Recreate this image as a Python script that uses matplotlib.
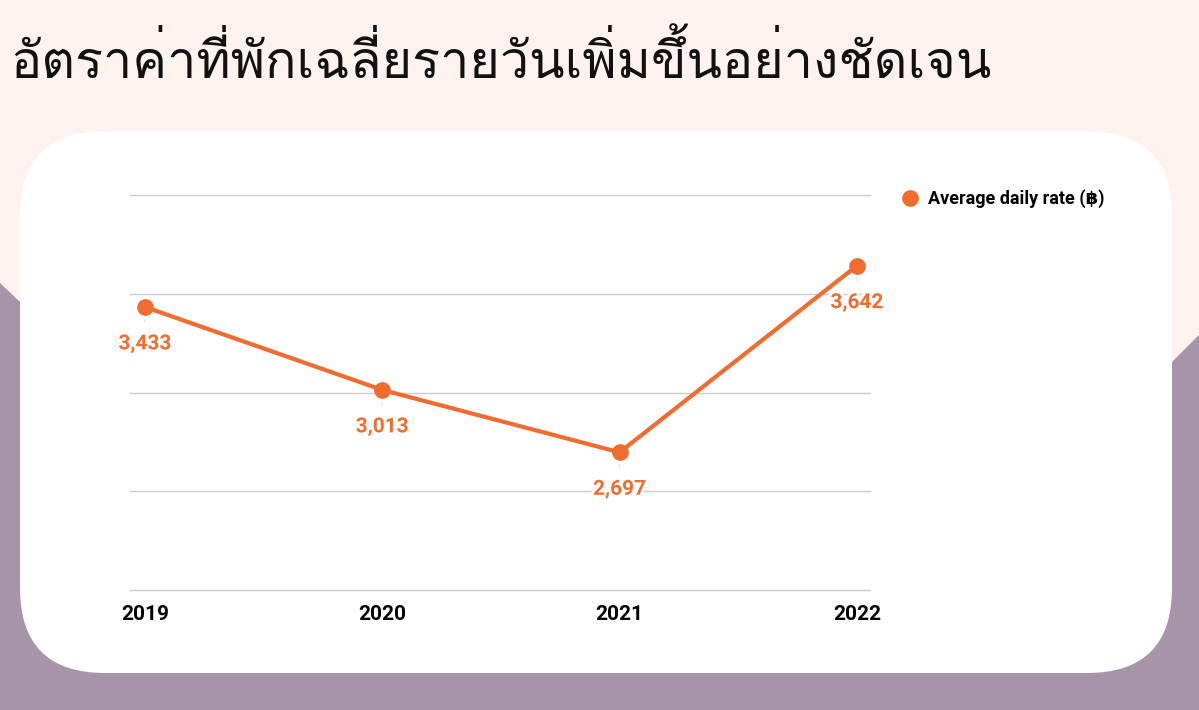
import matplotlib
matplotlib.use('Agg')
import matplotlib.pyplot as plt
from matplotlib.patches import FancyBboxPatch, Polygon
import matplotlib.patheffects as pe

# data
years = ['2019', '2020', '2021', '2022']
rate = [3433, 3013, 2697, 3642]
series_name = 'Average daily rate (฿)'
title = 'อัตราค่าที่พักเฉลี่ยรายวันเพิ่มขึ้นอย่างชัดเจน'

orange = '#f26b2f'
pink = '#fdf2ed'
purple = '#a894a8'

W, H = 1199, 710
fig = plt.figure(figsize=(W / 100, H / 100), dpi=100)
fig.patch.set_facecolor(pink)

# background shapes in pixel coords
bg = fig.add_axes([0, 0, 1, 1], zorder=0)
bg.set_xlim(0, W)
bg.set_ylim(H, 0)
bg.axis('off')
bg.add_patch(Polygon([(0, 283), (200, 473), (1000, 533), (W, 335), (W, H), (0, H)],
                     closed=True, facecolor=purple, edgecolor='none'))
bg.add_patch(FancyBboxPatch((20 + 85, 131 + 85), 1152 - 170, 542 - 170,
                            boxstyle='round,pad=85', facecolor='white', edgecolor='none'))

fig.text(10 / W, 1 - 62 / H, title, fontsize=37.5, va='center', ha='left',
         family=['Loma', 'DejaVu Sans'], color='#111111')

ax = fig.add_axes([130 / W, 120 / H, 740 / W, 395 / H], zorder=2)
ax.set_facecolor('none')
x = list(range(len(years)))
ax.plot(x, rate, color=orange, lw=3, marker='o', markersize=11, zorder=3,
        label=series_name, solid_capstyle='round')
ax.set_xlim(-0.063, 3.055)
ax.set_ylim(2000, 4000)
ax.set_yticks([2000, 2500, 3000, 3500, 4000])
ax.yaxis.grid(True, color='#cccccc', lw=1)
for gl in ax.get_ygridlines():
    gl.set_clip_on(False)
ax.set_yticklabels([])
ax.tick_params(axis='y', length=0)
ax.tick_params(axis='x', length=0, pad=11)
ax.set_xticks(x)
ax.set_xticklabels(years, fontsize=15, fontweight='bold', family=['Roboto', 'DejaVu Sans'])
for s in ax.spines.values():
    s.set_visible(False)
ax.set_axisbelow(True)

for xi, v in zip(x, rate):
    ax.annotate(f'{v:,}', xy=(xi, v), xytext=(0, -37), textcoords='offset pixels',
                ha='center', va='center', fontsize=15, fontweight='bold',
                family=['Roboto', 'DejaVu Sans'], color=orange, zorder=4,
                path_effects=[pe.withStroke(linewidth=4, foreground='white')],
                arrowprops=dict(arrowstyle='-', color='#dddddd', lw=0.8,
                                shrinkA=7, shrinkB=9))

leg = ax.legend(loc='upper left', bbox_to_anchor=(1.025, 1.055), frameon=False,
                handlelength=0.6, handletextpad=0.7,
                prop={'family': ['Roboto', 'DejaVu Sans'], 'weight': 'bold', 'size': 13})
leg.get_lines()[0].set_linestyle('none')

fig.savefig('out.png', dpi=100, facecolor=pink)
